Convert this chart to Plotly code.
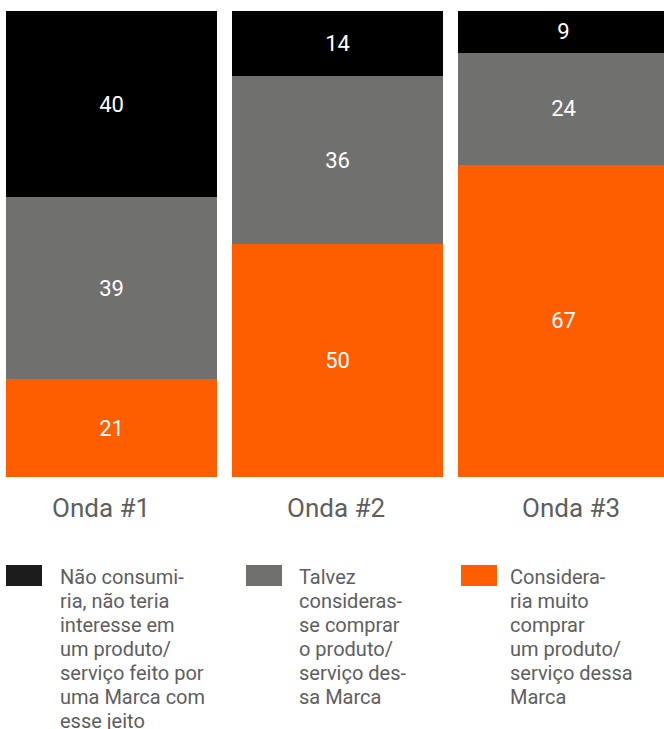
import plotly.graph_objects as go

# Survey waves and the share of respondents in each answer group (%)
waves = ["Onda #1", "Onda #2", "Onda #3"]
considera = [21, 50, 67]
talvez = [39, 36, 24]
nao_consumiria = [40, 14, 9]

# Legend descriptions, already hyphenated into their printed lines
label_considera = ["Considera-", "ria muito", "comprar", "um produto/",
                   "serviço dessa", "Marca"]
label_talvez = ["Talvez", "consideras-", "se comprar", "o produto/",
                "serviço des-", "sa Marca"]
label_nao = ["Não consumi-", "ria, não teria", "interesse em", "um produto/",
             "serviço feito por", "uma Marca com", "esse jeito"]

colors = ["#FF5E00", "#70706E", "#000000"]
legend_colors = ["#FF5E00", "#70706E", "#1C1C1C"]

W, H = 664, 729
ML, MR, MT, MB = 6, 0, 11, 252
PLOT_W = W - ML - MR
PLOT_H = H - MT - MB
STEP = 226      # pixel distance between bar centres
BAR_PX = 211    # bar width in pixels
FONT = "Roboto, 'Open Sans', sans-serif"
TEXT_GREY = "#5E5E5E"
LINE_PX = 24    # legend line pitch


def px_x(px):
    return (px - ML) / PLOT_W


def px_y(py):
    return (H - MB - py) / PLOT_H


xs = list(range(len(waves)))
fig = go.Figure()
for vals, color in zip([considera, talvez, nao_consumiria], colors):
    fig.add_trace(go.Bar(
        x=xs, y=vals,
        width=BAR_PX / STEP,
        marker=dict(color=color, line=dict(width=0)),
        text=[str(v) for v in vals],
        textposition="inside",
        insidetextanchor="middle",
        textangle=0,
        textfont=dict(family=FONT, size=22, color="white"),
        hoverinfo="skip",
        showlegend=False,
    ))

left = -(BAR_PX / 2) / STEP
right = left + PLOT_W / STEP

annotations = []
# wave labels under the bars
for i, (w, dx) in enumerate(zip(waves, [-11, -2, 7])):
    annotations.append(dict(
        x=i, xref="x", y=px_y(491), yref="paper",
        xanchor="center", yanchor="top", xshift=dx,
        text=w, showarrow=False,
        font=dict(family=FONT, size=26, color=TEXT_GREY),
    ))

# custom legend: swatch + wrapped description
shapes = []
legend_items = [
    (6, 58, legend_colors[2], label_nao),
    (246, 297, legend_colors[1], label_talvez),
    (461, 508, legend_colors[0], label_considera),
]
for sx, tx, col, lines in legend_items:
    shapes.append(dict(
        type="rect", xref="paper", yref="paper",
        x0=px_x(sx), x1=px_x(sx + 36), y0=px_y(586), y1=px_y(565),
        fillcolor=col, line=dict(width=0),
    ))
    for k, line in enumerate(lines):
        annotations.append(dict(
            x=px_x(tx), xref="paper", y=px_y(563 + k * LINE_PX), yref="paper",
            xanchor="left", yanchor="top", align="left",
            text=line, showarrow=False,
            font=dict(family=FONT, size=20, color=TEXT_GREY),
        ))

fig.update_layout(
    barmode="stack",
    width=W, height=H,
    margin=dict(l=ML, r=MR, t=MT, b=MB, pad=0),
    paper_bgcolor="white", plot_bgcolor="white",
    xaxis=dict(range=[left, right], visible=False, fixedrange=True),
    yaxis=dict(range=[0, 100], visible=False, fixedrange=True),
    annotations=annotations,
    shapes=shapes,
)

fig.write_html("out.html", config={"displayModeBar": False})
